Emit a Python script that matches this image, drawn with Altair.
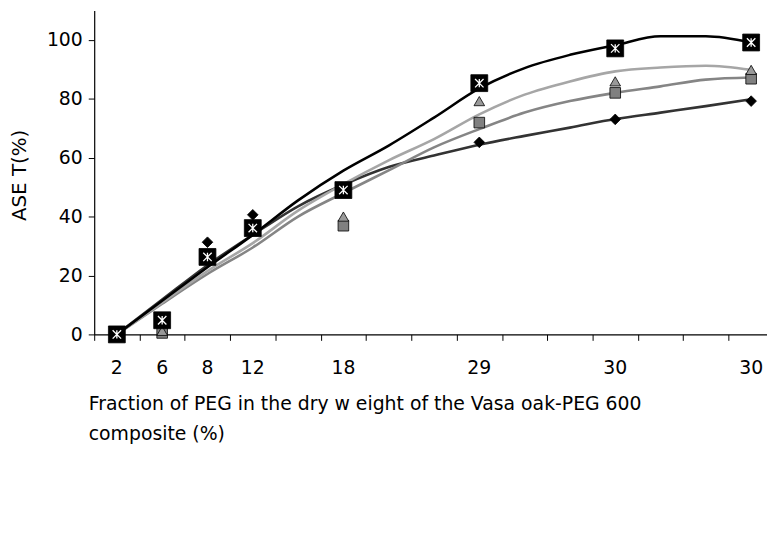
import altair as alt
import pandas as pd

FONT = "DejaVu Sans"

series = ["silica gel", "55% RH", "66% RH", "76% RH"]

# categories (Excel-style category axis, 15 slots; labels only where measured)
cat_index = [1, 2, 3, 4, 6, 9, 12, 15]
cat_labels = ["2", "6", "8", "12", "18", "29", "30", "30"]

# measured points
silica_pts = [0, 4, 31.3, 40.6, 49, 65.2, 73, 79.2]
rh55_pts = [0, 0.5, 26, 36, 36.9, 71.9, 82, 86.8]
rh66_pts = [0, 1.2, 26, 36, 40, 79.2, 85.9, 89.8]
rh76_pts = [0, 4.8, 26.3, 36.1, 49, 85.3, 97.1, 99.1]

# fitted curves, one value per category slot
curve_index = list(range(1, 16))
silica_fit = [0, 11.8, 23.5, 33.8, 43.5, 50.8, 56.8, 60.7, 64.4, 67.4, 70.2, 73.1, 75.3, 77.5, 79.8]
rh55_fit = [0, 10.4, 20.5, 29.5, 40, 48, 55.7, 63.5, 69.7, 75.3, 79.2, 82.0, 84.2, 86.5, 87.2]
rh66_fit = [0, 10.8, 21.5, 31, 42, 51, 59.1, 66.3, 74.7, 81.4, 85.9, 89.3, 90.6, 91.2, 89.8]
rh76_fit = [0, 11.4, 22.8, 33.8, 45.5, 55.6, 64.1, 73.6, 83.5, 90.4, 94.9, 98.2, 101.2, 101.2, 99.1]

y_ticks = [0, 20, 40, 60, 80, 100]
x_tick_pos = [i + 0.5 for i in range(0, 15)]

pts_all = [silica_pts, rh55_pts, rh66_pts, rh76_pts]
fit_all = [silica_fit, rh55_fit, rh66_fit, rh76_fit]

pts_df = pd.DataFrame(
    [{"series": s, "idx": i, "value": v}
     for s, vals in zip(series, pts_all) for i, v in zip(cat_index, vals)]
)
fit_df = pd.DataFrame(
    [{"series": s, "idx": i, "value": v}
     for s, vals in zip(series, fit_all) for i, v in zip(curve_index, vals)]
)
lab_df = pd.DataFrame({"idx": cat_index, "label": cat_labels})

W, H = 679, 327

x_scale = alt.Scale(domain=[0.5, 15.35], nice=False, zero=False)
y_scale = alt.Scale(domain=[0, 110], nice=False)

x_axis = alt.Axis(
    values=x_tick_pos, labels=False, ticks=True, tickSize=6, tickColor="black",
    domainColor="black", domainWidth=1.2, grid=False,
    title=["Fraction of PEG in the dry w eight of the Vasa oak-PEG 600", "composite (%)"],
    titleX=-6, titleY=76, titleAlign="left", titleBaseline="alphabetic",
    titleAngle=0, titleLineHeight=30, titleFontSize=19, titleFontWeight="normal",
    titleFont=FONT, titleColor="black",
)
y_axis = alt.Axis(
    values=y_ticks, tickSize=6, tickColor="black", domainColor="black", domainWidth=1.2,
    labelFontSize=19, labelFont=FONT, labelColor="black", labelPadding=6, grid=False,
    title="ASE T(%)", titleFontSize=20, titleFont=FONT, titleFontWeight="normal",
    titleColor="black", titleX=-75, titleY=166, titleAngle=270, titleAlign="center",
    titleBaseline="middle",
)

lines = alt.Chart(fit_df).mark_line(strokeWidth=2.6, interpolate="monotone").encode(
    x=alt.X("idx:Q", scale=x_scale, axis=x_axis),
    y=alt.Y("value:Q", scale=y_scale, axis=y_axis),
    stroke=alt.Stroke("series:N", scale=alt.Scale(domain=series,
                      range=["#333333", "#858585", "#a6a6a6", "#000000"]), legend=None),
    detail="series:N",
)

shape_legend = alt.Legend(
    orient="bottom", direction="horizontal", title=" ",
    labelFontSize=19, columnPadding=60,
)

color_scale = alt.Scale(domain=series, range=["#000000", "#808080", "#999999", "#000000"])
shape_scale = alt.Scale(domain=series, range=["diamond", "square", "triangle-up", "square"])

points = (
    alt.Chart(pts_df)
    .mark_point(filled=True, opacity=1, stroke="black", strokeWidth=0.8, size=115)
    .encode(
        x=alt.X("idx:Q", scale=x_scale),
        y=alt.Y("value:Q", scale=y_scale),
        color=alt.Color("series:N", scale=color_scale, legend=None),
        shape=alt.Shape("series:N", scale=shape_scale, legend=shape_legend),
    )
)

# larger black squares for 76% RH, with a thin white "x" inside
big76 = (
    alt.Chart(pts_df).transform_filter(alt.datum.series == "76% RH")
    .mark_point(shape="square", filled=True, fill="black", stroke="black", strokeWidth=0.8,
                size=290, opacity=1)
    .encode(x=alt.X("idx:Q", scale=x_scale), y=alt.Y("value:Q", scale=y_scale))
)
x_glyph = "M-0.5,-0.5L0.5,0.5M-0.5,0.5L0.5,-0.5M0,-0.5L0,0.5"
cross = (
    alt.Chart(pts_df).transform_filter(alt.datum.series == "76% RH")
    .mark_point(shape=x_glyph, filled=False, stroke="white", strokeWidth=1.3, size=290, opacity=1)
    .encode(x=alt.X("idx:Q", scale=x_scale), y=alt.Y("value:Q", scale=y_scale))
)

labels = alt.Chart(lab_df).mark_text(fontSize=19, font=FONT, baseline="alphabetic", color="black").encode(
    x=alt.X("idx:Q", scale=x_scale),
    y=alt.value(367),
    text="label:N",
)

chart = alt.layer(lines, points, big76, cross, labels).properties(
    width=W, height=H,
    autosize=alt.AutoSizeParams(type="none"),
    padding={"left": 87, "top": 0, "right": 0, "bottom": 196},
    background="white",
).configure_view(stroke=None)

chart.save("out.html", embed_options={"renderer": "svg", "actions": False})
